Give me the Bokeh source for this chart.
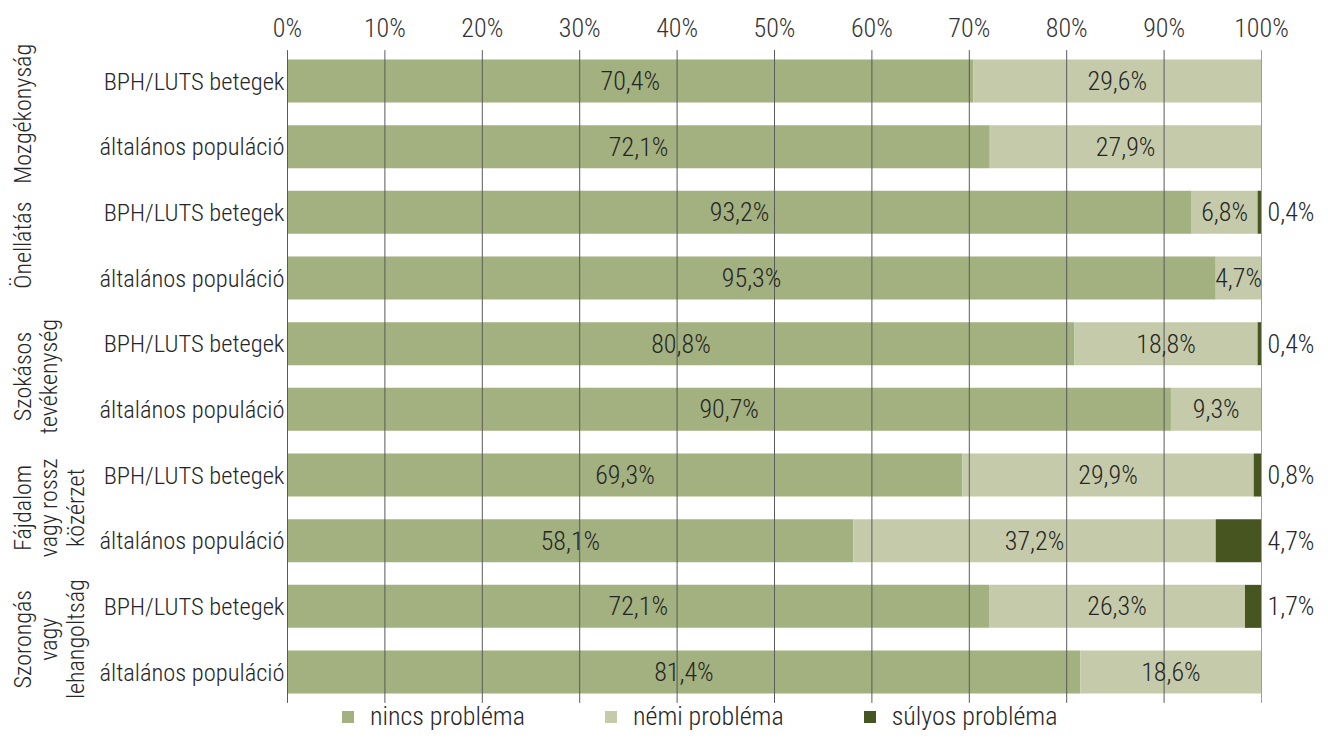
from math import pi
from bokeh.plotting import figure
from bokeh.models import (ColumnDataSource, FixedTicker, Range1d, Legend, LegendItem)
from bokeh.core.properties import value
from bokeh.embed import file_html
from bokeh.resources import INLINE

groups = ["Mozgékonyság", "Önellátás", "Szokásos\ntevékenység",
          "Fájdalom\nvagy rossz\nközérzet", "Szorongás\nvagy\nlehangoltság"]
subgroups = ["BPH/LUTS betegek", "általános populáció"]
nincs = [70.4, 72.1, 93.2, 95.3, 80.8, 90.7, 69.3, 58.1, 72.1, 81.4]
nemi = [29.6, 27.9, 6.8, 4.7, 18.8, 9.3, 29.9, 37.2, 26.3, 18.6]
sulyos = [0.0, 0.0, 0.4, 0.0, 0.4, 0.0, 0.8, 4.7, 1.7, 0.0]
series = ["nincs probléma", "némi probléma", "súlyos probléma"]
colors = ["#a3b07f", "#c5cbaa", "#475521"]
ticks = [0, 10, 20, 30, 40, 50, 60, 70, 80, 90, 100]
tick_labels = ["0%", "10%", "20%", "30%", "40%", "50%", "60%", "70%", "80%", "90%", "100%"]

FONT = "'Roboto Condensed Light', 'Roboto Condensed', 'Liberation Sans Narrow', Roboto"
TXT = "#262626"

W, H = 1320, 733
LEFT_PX, PLOT_PX, ROW0_PX, ROW_PX, FRAME_TOP = 287.0, 974.0, 80.5, 65.67, 40
ppu = PLOT_PX / 100.0
x_start = -LEFT_PX / ppu
x_end = (W - LEFT_PX) / ppu
n = len(groups) * len(subgroups)
y_top = -(ROW0_PX - FRAME_TOP) / ROW_PX
y_bot = y_top + (H - FRAME_TOP) / ROW_PX

rows = list(range(n))
row_sub = [s for g in groups for s in subgroups]

def fmt(v):
    return ("%.1f" % v).replace(".", ",") + "%"

tot = [a + b + c for a, b, c in zip(nincs, nemi, sulyos)]
e1 = [a / t * 100 for a, t in zip(nincs, tot)]
e2 = [(a + b) / t * 100 for a, b, t in zip(nincs, nemi, tot)]
e3 = [100.0 for _ in tot]

src = ColumnDataSource(dict(y=rows, s0=[0.0] * n, e1=e1, e2=e2, e3=e3))

p = figure(width=W, height=H, output_backend="svg", toolbar_location=None,
           x_range=Range1d(x_start, x_end), y_range=Range1d(y_bot, y_top),
           x_axis_location="above",
           min_border_left=0, min_border_right=0, min_border_top=FRAME_TOP,
           min_border_bottom=0)
p.yaxis.visible = False
p.xgrid.visible = False
p.ygrid.visible = False
p.outline_line_color = None

BH = 0.655
r1 = p.hbar(y="y", left="s0", right="e1", height=BH, source=src,
            fill_color=colors[0], line_color=None)
r2 = p.hbar(y="y", left="e1", right="e2", height=BH, source=src,
            fill_color=colors[1], line_color=None)
r3 = p.hbar(y="y", left="e2", right="e3", height=BH, source=src,
            fill_color=colors[2], line_color=None)

# vertical grid lines (over the bars, as in the reference)
gcol = ["#5a5a5a" if t < 100 else "#9aa67a" for t in ticks]
p.segment(x0=ticks, x1=ticks, y0=[-0.47] * len(ticks), y1=[n - 0.53] * len(ticks),
          line_color=gcol, line_width=1)

# value labels
VFS = "26px"
p.text(x=[e / 2 for e in e1], y=rows, text=[fmt(v) for v in nincs],
       text_align="center", text_baseline="middle",
       text_font=value(FONT), text_font_size=value(VFS), text_color=TXT)
i2 = [i for i, v in enumerate(nemi) if v > 0]
p.text(x=[(e1[i] + e2[i]) / 2 for i in i2], y=[rows[i] for i in i2],
       text=[fmt(nemi[i]) for i in i2],
       text_align="center", text_baseline="middle",
       text_font=value(FONT), text_font_size=value(VFS), text_color=TXT)
i3 = [i for i, v in enumerate(sulyos) if v > 0]
p.text(x=[e3[i] for i in i3], y=[rows[i] for i in i3],
       text=[fmt(sulyos[i]) for i in i3], x_offset=6,
       text_align="left", text_baseline="middle",
       text_font=value(FONT), text_font_size=value(VFS), text_color=TXT)

# category (row) labels and group labels
p.text(x=[0] * n, y=rows, text=row_sub, x_offset=-3,
       text_align="right", text_baseline="middle",
       text_font=value(FONT), text_font_size=value("24.5px"), text_color=TXT)
gy = [2 * g + 0.5 for g in range(len(groups))]
p.text(x=[x_start] * len(groups), y=gy, text=groups, x_offset=8, angle=pi / 2,
       text_align="center", text_baseline="top", text_line_height=0.95,
       text_font=value(FONT), text_font_size=value("24px"), text_color=TXT)

# top axis
xa = p.xaxis[0]
xa.ticker = FixedTicker(ticks=ticks)
xa.major_label_overrides = {t: l for t, l in zip(ticks, tick_labels)}
xa.axis_line_color = None
xa.major_tick_line_color = None
xa.minor_tick_line_color = None
xa.major_label_text_font = FONT
xa.major_label_text_font_size = "26px"
xa.major_label_text_color = "#333333"
xa.major_label_standoff = -8

legend = Legend(items=[LegendItem(label=series[0], renderers=[r1]),
                       LegendItem(label=series[1], renderers=[r2]),
                       LegendItem(label=series[2], renderers=[r3])],
                orientation="horizontal", location=(340, 2),
                glyph_width=15, glyph_height=15, label_standoff=15,
                spacing=78, padding=0, margin=0,
                label_text_font=FONT, label_text_font_size="26px",
                label_text_color=TXT, border_line_color=None,
                background_fill_alpha=0)
p.add_layout(legend, "center")

open("out.html", "w").write(file_html(p, INLINE))
